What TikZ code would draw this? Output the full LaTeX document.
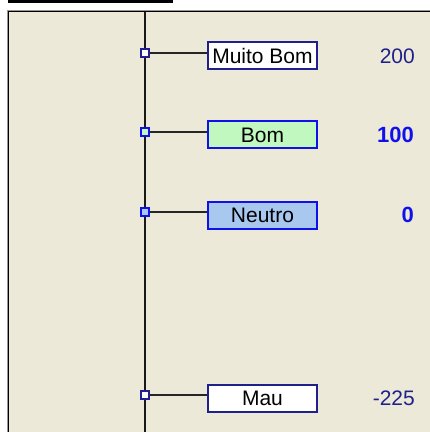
\documentclass[tikz,border=0pt]{standalone}
\usepackage{fontspec}
\setmainfont{Liberation Sans}
\definecolor{panel}{RGB}{236,233,216}
\definecolor{navy}{RGB}{32,32,140}
\definecolor{brightblue}{RGB}{16,16,235}
\definecolor{goodgreen}{RGB}{192,248,192}
\definecolor{neutralblue}{RGB}{168,200,240}
\definecolor{rimgray}{RGB}{150,150,150}
\begin{document}
\begin{tikzpicture}[x=1pt, y=-1pt,
    levelbox/.style={draw=navy, fill=white, line width=2pt, minimum width=109pt, minimum height=27pt,
        inner sep=0pt, text height=15pt, text depth=0pt, font=\fontsize{21}{24}\selectfont},
    knob/.style={draw=navy, fill=white, line width=1.6pt, minimum size=8pt, inner sep=0pt},
    valtext/.style={anchor=base east, text=navy, inner sep=0pt, font=\fontsize{21}{24}\selectfont},
    stem/.style={line width=2pt, draw=black!85}]
    \useasboundingbox (0,0) rectangle (430,432);
    % Window frame
    \fill[white] (0,0) rectangle (430,432);
    \fill[black] (8,0) rectangle (173,2.7); % title bar stroke
    \fill[panel] (8,10) rectangle (431,433); % panel
    \draw[rimgray, line width=1pt] (7.5,433) -- (7.5,10.5) -- (431,10.5); % outer rim
    \draw[black, line width=1.2pt] (8.6,433) -- (8.6,11.6) -- (431,11.6); % inner rim

    % Scale axis
    \coordinate (axtop) at (145,12);
    \coordinate (axbot) at (145,433);
    \draw[line width=2pt, black!90] (axtop) -- (axbot);

    % Muito Bom
    \node (knobMB) at (145,53) [knob] {};
    \node (boxMB) at (262.5,55.5) [levelbox] {Muito Bom};
    \node (valMB) at (415,63) [valtext] {200};
    \draw[stem] (knobMB.east) -- (knobMB.east -| boxMB.west);

    % Bom
    \node (knobB) at (145,132) [knob, draw=brightblue, fill=goodgreen] {};
    \node (boxB) at (262.5,134.5) [levelbox, draw=brightblue, fill=goodgreen] {Bom};
    \node (valB) at (414,142.5) [valtext, text=brightblue, font=\fontsize{22}{24}\selectfont\bfseries] {100};
    \draw[stem] (knobB.east) -- (knobB.east -| boxB.west);

    % Neutro
    \node (knobN) at (145,212) [knob, draw=brightblue, fill=neutralblue] {};
    \node (boxN) at (262.5,215) [levelbox, draw=brightblue, fill=neutralblue] {Neutro};
    \node (valN) at (414,222.5) [valtext, text=brightblue, font=\fontsize{22}{24}\selectfont\bfseries] {0};
    \draw[stem] (knobN.east) -- (knobN.east -| boxN.west);

    % Mau
    \node (knobM) at (145,395) [knob] {};
    \node (boxM) at (262.5,398) [levelbox] {Mau};
    \node (valM) at (415,405.5) [valtext] {-225};
    \draw[stem] (knobM.east) -- (knobM.east -| boxM.west);
\end{tikzpicture}
\end{document}
